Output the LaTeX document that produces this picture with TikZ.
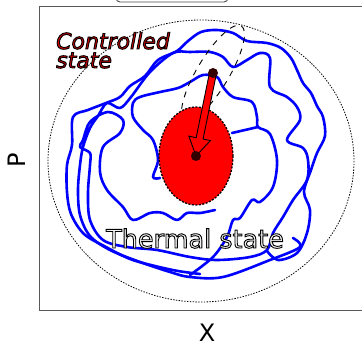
\documentclass[tikz,border=0pt]{standalone}
\usepackage{fontspec}
\setmainfont{DejaVu Sans}[ItalicFont={DejaVu Sans Oblique}]
\usetikzlibrary{calc}

\definecolor{dotred}{HTML}{330000}
\definecolor{ctlred}{HTML}{CC0000}
\definecolor{thmgray}{HTML}{F2F2F2}

% filled text with a thin black rim (fill + stroke render mode)
\newcommand\rimmed[1]{%
  \special{pdf:literal direct 2 Tr 0.9 w 0 0 0 RG}#1\special{pdf:literal direct 0 Tr}}

\tikzset{
  traj/.style={draw=blue, line width=2.6pt, line join=round, line cap=round},
  bound/.style={draw=black, line width=0.8pt, dash pattern=on 1.4pt off 1.4pt},
  squeeze/.style={draw=black, line width=0.9pt, dash pattern=on 6pt off 6pt},
  cloud/.style={fill=red, draw=black, line width=1.3pt, dash pattern=on 2pt off 1.5pt},
  ctllbl/.style={anchor=base west, inner sep=0pt, text=ctlred, align=left,
    font=\fontsize{22}{19}\selectfont\itshape},
  thmlbl/.style={anchor=base west, inner sep=0pt, text=thmgray,
    font=\fontsize{25.5}{26}\selectfont},
  axlbl/.style={inner sep=0pt, font=\fontsize{24}{24}\selectfont},
}

\begin{document}
\begin{tikzpicture}[x=1pt,y=-1pt]
  \useasboundingbox (0,0) rectangle (362,345);

  % frame and labels
  \draw[black!70, line width=0.9pt, rounded corners=4pt] (116,-12) rectangle (228,2);
  \draw[black!65, line width=1pt] (380,7) -- (39,7) -- (39,310) -- (380,310);
  \node[axlbl, rotate=90] (plbl) at (17,160) {P};
  \node[axlbl] (xlbl) at (207,333) {X};

  % region of the thermal state
  \draw[bound] (201,161) ellipse[x radius=153, y radius=141];

  % trajectory
  \draw[traj] plot[smooth, tension=0.55] coordinates {
    (200,274) (178,271) (155,266) (130,259) (106,247) (84,234) (71,214)
    (67,192) (67,165) (72,145) (73,117) (88,110) (106,103) (120,97)
    (130,86) (145,76) (158,60) (177,51) (188,41) (201,32) (217,30)
    (233,33) (247,41) (267,43) (281,48) (291,58) (297,70) (303,83)
    (311,93) (317,106) (323,117) (325,136) (317,153) (311,170) (304,192)
    (310,210) (307,233) (297,253) (278,260) (267,251)};
  \draw[traj] plot[smooth, tension=0.55] coordinates {
    (293,238) (300,247) (270,260) (223,277) (190,277) (170,272) (140,262)
    (110,250) (90,236) (80,215) (78,190) (80,165) (83,147) (90,128)
    (98,116) (107,103) (120,108) (131,97) (150,72) (173,53) (190,52)
    (210,52) (223,57) (233,67) (247,60) (260,53) (270,58) (270,87)
    (287,97) (297,107) (300,120) (287,140) (303,148) (308,160) (307,180)
    (293,200) (283,217) (273,233) (267,250) (250,257) (217,260) (190,257)
    (157,250) (127,247) (103,240) (90,220) (88,193) (90,165) (90,153)
    (80,147) (83,140) (90,122) (108,112) (123,120) (120,133) (103,147)
    (100,172) (107,190) (123,207) (133,220) (150,213) (163,213) (177,220)
    (187,213) (200,213) (215,210)};
  \draw[traj] plot[smooth, tension=0.55] coordinates {
    (190,275) (213,257) (227,237) (233,220) (240,218) (252,200) (260,202)
    (273,187) (277,160) (270,134) (258,127) (257,117) (252,102) (233,97)
    (223,87) (217,77) (203,75) (190,82) (178,88) (160,92) (140,97)
    (133,103) (133,117) (143,130) (153,140) (158,160) (153,177) (160,178)};
  \draw[traj] (232,133) -- (258,127);

  % states
  \coordinate (ctl) at (213,73);
  \coordinate (thm) at (196,156);
  \draw[squeeze] (ctl) ellipse[x radius=55, y radius=16, rotate=59];
  \draw[cloud] (thm) ellipse[x radius=37, y radius=49];

  % displacement arrow
  \coordinate (hb) at ($(thm)!18pt!(ctl)$);
  \draw[fill=red, draw=black, line width=0.9pt, line join=miter]
    ($(ctl)!3.5pt!90:(thm)$) -- ($(hb)!3.5pt!-90:(ctl)$) -- ($(hb)!11pt!-90:(ctl)$)
    -- (thm) -- ($(hb)!11pt!90:(ctl)$) -- ($(hb)!3.5pt!90:(ctl)$)
    -- ($(ctl)!3.5pt!-90:(thm)$) -- cycle;
  \fill[dotred] (ctl) circle[radius=5];
  \fill[dotred] (thm) circle[radius=5];

  % labels
  \node[ctllbl] (ctllab) at (56,68) {\rimmed{Controlled}\\\rimmed{state}};
  \node[thmlbl] (thmlab) at (106,248) {\rimmed{Thermal state}};
\end{tikzpicture}
\end{document}
